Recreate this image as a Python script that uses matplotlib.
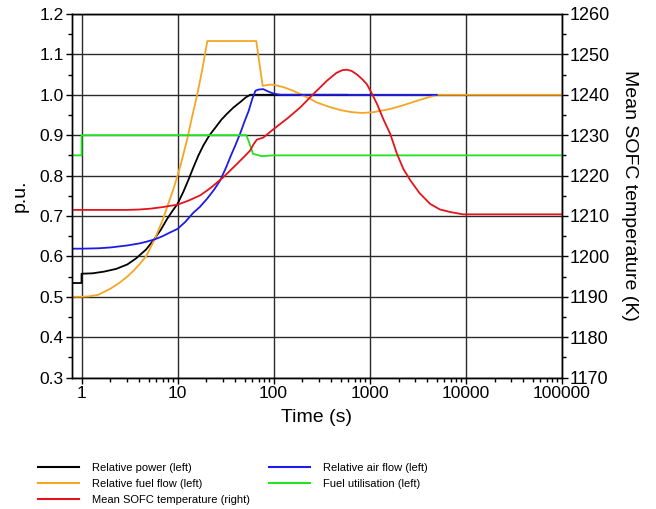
import matplotlib.pyplot as plt
from matplotlib.ticker import MultipleLocator, FixedLocator, NullFormatter
from matplotlib.lines import Line2D

plt.rcParams["font.family"] = ["Liberation Sans", "DejaVu Sans"]

# Relative power (left axis)
power_t = [0.8, 1.0, 1.0, 1.3, 1.7, 2.3, 3.0, 3.7, 4.7, 5.7, 6.7, 7.75, 9.0, 10, 11.5, 13, 14.6, 16.5,
           18.6, 21.5, 25, 28.5, 32.7, 38, 45, 51, 57, 580]
power_v = [0.534, 0.534, 0.557, 0.558, 0.562, 0.569, 0.58, 0.595, 0.617, 0.642, 0.666, 0.692, 0.715, 0.73,
           0.76, 0.79, 0.82, 0.85, 0.875, 0.9, 0.92, 0.938, 0.953, 0.968, 0.982, 0.993, 1.0, 1.0]

# Relative fuel flow (left axis)
fuel_t = [0.8, 1.0, 1.2, 1.5, 2.0, 2.5, 3.0, 3.5, 4.0, 4.7, 5.77, 7.0, 8.0, 9.0, 10, 11, 12.6, 14, 16, 18,
          20.4, 66, 70, 77, 90, 100, 130, 160, 197, 240, 282, 380, 500, 650, 830, 1100, 1650, 2300, 3100,
          4000, 5050, 100000]
fuel_v = [0.5, 0.5, 0.501, 0.505, 0.52, 0.535, 0.55, 0.565, 0.58, 0.6, 0.642, 0.69, 0.73, 0.765, 0.80,
          0.835, 0.89, 0.94, 1.0, 1.06, 1.133, 1.133, 1.09, 1.022, 1.025, 1.025, 1.018, 1.01, 1.0, 0.99,
          0.981, 0.97, 0.962, 0.957, 0.955, 0.957, 0.965, 0.975, 0.985, 0.993, 1.0, 1.0]

# Relative air flow (left axis)
air_t = [0.8, 1.0, 1.5, 2.0, 3.0, 4.0, 4.7, 5.77, 7.0, 8.0, 10, 12, 14.6, 17, 20.2, 24, 27.8, 32, 36, 40,
         45, 50, 55, 60, 64.7, 70, 78, 90, 100, 117, 5000]
air_v = [0.619, 0.619, 0.62, 0.622, 0.627, 0.632, 0.636, 0.642, 0.65, 0.657, 0.668, 0.685, 0.708, 0.722,
         0.742, 0.765, 0.788, 0.82, 0.85, 0.875, 0.905, 0.935, 0.96, 0.99, 1.01, 1.013, 1.014, 1.007,
         1.003, 1.0, 1.0]

# Fuel utilisation (left axis)
util_t = [0.8, 1.0, 1.0, 52, 55, 61, 75, 100, 100000]
util_v = [0.85, 0.85, 0.9, 0.9, 0.885, 0.854, 0.848, 0.85, 0.85]

# Mean SOFC temperature (right axis, K)
temp_t = [0.8, 3.0, 4.0, 5.2, 7.0, 10, 13, 17.2, 22, 30, 40, 50, 57, 62, 67, 78, 100, 140, 190, 260, 360,
          450, 520, 580, 650, 750, 850, 937, 1050, 1195, 1400, 1640, 1925, 2250, 2660, 3300, 4260, 5400,
          6830, 9350, 100000]
temp_v = [1211.5, 1211.5, 1211.6, 1211.8, 1212.2, 1212.8, 1213.8, 1215.1, 1216.9, 1219.6, 1222.5, 1224.8,
          1226.2, 1227.8, 1228.9, 1229.4, 1231.5, 1234.2, 1236.9, 1240.2, 1243.5, 1245.4, 1246.1, 1246.2,
          1245.9, 1244.9, 1243.7, 1242.6, 1240.4, 1237.7, 1233.8, 1230.3, 1225.4, 1221.6, 1218.8, 1215.7,
          1213.0, 1211.6, 1211.0, 1210.4, 1210.4]

fig = plt.figure(figsize=(6.56, 5.09), dpi=100)
ax = fig.add_axes([0.1098, 0.2583, 0.7464, 0.7142])
ax2 = ax.twinx()

lw = 1.3
c_power = "black"
c_fuel = "#f5a623"
c_air = "#1c1ce8"
c_util = "#22e322"
c_temp = "#e3141b"

ax.plot(power_t, power_v, color=c_power, lw=lw)
ax.plot(fuel_t, fuel_v, color=c_fuel, lw=lw)
ax.plot(air_t, air_v, color=c_air, lw=lw)
ax.plot(util_t, util_v, color=c_util, lw=lw)
ax2.plot(temp_t, temp_v, color=c_temp, lw=lw)

ax.set_xscale("log")
ax.set_xlim(0.796, 100000)
ax.set_ylim(0.3, 1.2)
ax2.set_ylim(1170, 1260)

ax.xaxis.set_major_locator(FixedLocator([1, 10, 100, 1000, 10000, 100000]))
ax.set_xticklabels(["1", "10", "100", "1000", "10000", "100000"])
ax.xaxis.set_minor_locator(FixedLocator([m * 10 ** d for d in range(0, 5) for m in range(2, 10)]))
ax.xaxis.set_minor_formatter(NullFormatter())
ax.yaxis.set_major_locator(MultipleLocator(0.1))
ax.yaxis.set_minor_locator(MultipleLocator(0.05))
ax.yaxis.set_major_formatter(plt.FuncFormatter(lambda v, p: f"{v:.1f}"))
ax2.yaxis.set_major_locator(MultipleLocator(10))
ax2.yaxis.set_minor_locator(MultipleLocator(5))

ax.grid(True, which="major", color="#2a2a2a", lw=1.0)
for a in (ax, ax2):
    a.tick_params(which="major", direction="out", length=4, width=1, labelsize=12.5, pad=2)
    a.tick_params(which="minor", direction="out", length=3, width=1)
    for s in a.spines.values():
        s.set_linewidth(1.0)
ax2.tick_params(axis="y", labelsize=13)

ax.set_xlabel("Time (s)", fontsize=14, labelpad=6)
ax.set_ylabel("p.u.", fontsize=14, labelpad=8)
ax2.set_ylabel("Mean SOFC temperature (K)", fontsize=14, rotation=270, labelpad=20)

handles = [
    Line2D([], [], color=c_power, lw=1.5),
    Line2D([], [], color=c_fuel, lw=1.5),
    Line2D([], [], color=c_temp, lw=1.5),
    Line2D([], [], color=c_air, lw=1.5),
    Line2D([], [], color=c_util, lw=1.5),
]
labels = [
    "Relative power (left)",
    "Relative fuel flow (left)",
    "Mean SOFC temperature (right)",
    "Relative air flow (left)",
    "Fuel utilisation (left)",
]
fig.legend(handles, labels, loc="upper left", bbox_to_anchor=(0.051, 0.1),
           ncol=2, frameon=False, fontsize=8, handlelength=3.7, handletextpad=1.15,
           columnspacing=1.7, labelspacing=0.57, borderaxespad=0)

fig.savefig("out.png", dpi=100)
